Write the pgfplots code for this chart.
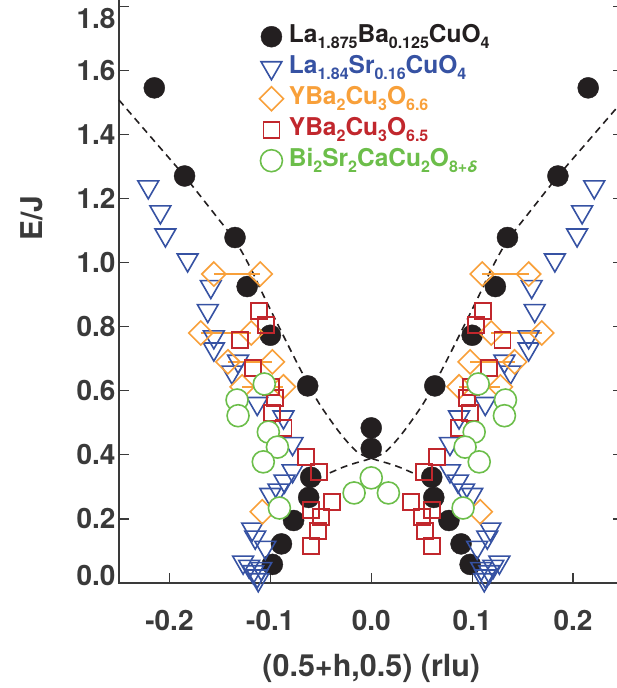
\documentclass[border=0pt]{standalone}
\usepackage{fontspec}
\setmainfont{TeX Gyre Heros}
\usepackage{pgfplots}
\pgfplotsset{compat=1.18}
\definecolor{cblk}{HTML}{231F20}
\definecolor{cblue}{HTML}{3652A3}
\definecolor{corange}{HTML}{F8A03A}
\definecolor{cred}{HTML}{C1272D}
\definecolor{cgreen}{HTML}{6CBE4A}
\definecolor{tgray}{HTML}{3A3A3A}
\newcommand{\sbs}[1]{\raisebox{-6.5pt}{\fontsize{16}{16}\selectfont #1}}
\begin{document}
\begin{tikzpicture}
\begin{axis}[
  scale only axis, width=504.5pt, height=599.3pt,
  xmin=-0.25, xmax=0.25, ymin=0, ymax=1.87,
  clip=false,
  axis line style={tgray, line width=1.2pt},
  tick align=inside, major tick length=10pt,
  tick style={tgray, line width=1.2pt},
  xtick={-0.2,-0.1,0,0.1,0.2},
  xticklabels={-0.2,-0.1,0.0,0.1,0.2},
  ytick={0,0.2,0.4,0.6,0.8,1.0,1.2,1.4,1.6,1.8},
  yticklabels={\raisebox{-2pt}[0pt][0pt]{0.0},0.2,0.4,0.6,0.8,1.0,1.2,1.4,1.6,\raisebox{-22pt}[0pt][0pt]{1.8}},
  ticklabel style={font=\fontsize{28}{32}\selectfont\bfseries, text=tgray},
  xticklabel style={yshift=-24pt},
  xlabel={(0.5+h,0.5) (rlu)},
  xlabel style={at={(rel axis cs:0.5,0)}, anchor=center, yshift=-85pt, font=\fontsize{30.5}{34}\selectfont\bfseries, text=tgray},
  ylabel={E/J},
  ylabel style={at={(rel axis cs:-0.172,0.609)}, anchor=center, rotate=0, font=\fontsize{30}{34}\selectfont\bfseries, text=tgray},
  legend style={at={(axis cs:-0.114,1.752)}, anchor=north west, draw=none, fill=none,
    font=\fontsize{24.5}{28}\selectfont\bfseries, row sep=5pt, column sep=4pt,
    nodes={inner sep=1.5pt, text height=17pt, text depth=6pt}},
  legend cell align=left,
  unbounded coords=jump,
]
% dashed guide curves
\addplot[forget plot, cblk, line width=1.6pt, dash pattern=on 7pt off 5pt, smooth] table {
-0.250 1.507
-0.218 1.390
-0.186 1.273
-0.160 1.170
-0.135 1.068
-0.120 0.985
-0.108 0.905
-0.090 0.790
-0.070 0.665
-0.052 0.562
-0.031 0.468
-0.014 0.409
0.001 0.388
0.016 0.374
0.029 0.360
0.045 0.338
};
\addplot[forget plot, cblk, line width=1.6pt, dash pattern=on 7pt off 5pt, smooth] table {
0.250 1.507
0.218 1.390
0.186 1.273
0.160 1.170
0.135 1.068
0.120 0.985
0.108 0.905
0.090 0.790
0.070 0.665
0.052 0.562
0.031 0.468
0.014 0.409
-0.001 0.388
-0.016 0.374
-0.029 0.360
-0.045 0.338
};
% La1.875Ba0.125CuO4
\addplot[only marks, mark=*, mark size=10.5pt, color=cblk] table {
-0.215 1.545
-0.185 1.270
-0.135 1.078
-0.123 0.925
-0.100 0.773
-0.063 0.615
-0.060 0.330
-0.062 0.267
-0.077 0.195
-0.089 0.122
-0.098 0.058
0.000 0.484
0.000 0.420
0.060 0.330
0.062 0.267
0.077 0.195
0.089 0.122
0.098 0.058
0.063 0.615
0.100 0.773
0.123 0.925
0.135 1.078
0.185 1.270
0.215 1.545
};
\addlegendentry{\textcolor{cblk}{La\sbs{1.875}Ba\sbs{0.125}CuO\sbs{4}}}
% La1.84Sr0.16CuO4
\addplot[only marks, mark=triangle, mark size=12pt, color=cblue, mark options={rotate=180, fill=white, line width=1.6pt}] table {
-0.221 1.236
-0.209 1.158
-0.204 1.086
-0.182 1.008
-0.159 0.925
-0.162 0.850
-0.156 0.768
-0.156 0.730
-0.132 0.692
-0.138 0.658
-0.113 0.560
-0.087 0.518
-0.078 0.435
-0.078 0.350
-0.086 0.318
-0.092 0.290
-0.100 0.276
-0.118 0.168
-0.115 0.143
-0.105 0.111
-0.127 0.065
-0.121 0.052
-0.117 0.035
-0.113 0.022
-0.109 0.045
-0.112 0.010
0.221 1.236
0.209 1.158
0.204 1.086
0.182 1.008
0.159 0.925
0.162 0.850
0.156 0.768
0.156 0.730
0.132 0.692
0.138 0.658
0.113 0.560
0.087 0.518
0.078 0.435
0.078 0.350
0.086 0.318
0.092 0.290
0.100 0.276
0.118 0.168
0.115 0.143
0.105 0.111
0.127 0.065
0.121 0.052
0.117 0.035
0.113 0.022
0.109 0.045
0.112 0.010
};
\addlegendentry{\textcolor{cblue}{La\sbs{1.84}Sr\sbs{0.16}CuO\sbs{4}}}
% YBa2Cu3O6.6 horizontal bars
\addplot[forget plot, corange, line width=1.6pt] table {
-0.156 0.964
-0.110 0.964
nan nan
-0.169 0.780
-0.119 0.780
nan nan
-0.142 0.690
-0.098 0.690
nan nan
-0.128 0.612
-0.087 0.612
nan nan
0.156 0.964
0.110 0.964
nan nan
0.169 0.780
0.119 0.780
nan nan
0.142 0.690
0.098 0.690
nan nan
0.128 0.612
0.087 0.612
};
\addplot[only marks, mark=square, mark size=8.5pt, color=corange, mark options={rotate=45, fill=white, line width=1.6pt}] table {
-0.156 0.964
-0.110 0.964
-0.169 0.780
-0.119 0.780
-0.142 0.690
-0.098 0.690
-0.128 0.612
-0.087 0.612
-0.108 0.222
0.156 0.964
0.110 0.964
0.169 0.780
0.119 0.780
0.142 0.690
0.098 0.690
0.128 0.612
0.087 0.612
0.108 0.222
};
\addlegendentry{\textcolor{corange}{YBa\sbs{2}Cu\sbs{3}O\sbs{6.6}}}
% YBa2Cu3O6.5
\addplot[only marks, mark=square, mark size=8pt, color=cred, mark options={fill=white, line width=1.8pt}] table {
-0.111 0.849
-0.104 0.805
-0.130 0.758
-0.117 0.671
-0.099 0.612
-0.095 0.577
-0.098 0.530
-0.087 0.484
-0.065 0.393
-0.052 0.346
-0.039 0.253
-0.060 0.228
-0.050 0.206
-0.053 0.162
-0.060 0.115
0.111 0.849
0.104 0.805
0.130 0.758
0.117 0.671
0.099 0.612
0.095 0.577
0.098 0.530
0.087 0.484
0.065 0.393
0.052 0.346
0.039 0.253
0.060 0.228
0.050 0.206
0.053 0.162
0.060 0.115
};
\addlegendentry{\textcolor{cred}{YBa\sbs{2}Cu\sbs{3}O\sbs{6.5}}}
% Bi2Sr2CaCu2O8+d
\addplot[only marks, mark=*, mark size=11pt, color=cgreen, mark options={fill=white, line width=1.6pt}] table {
-0.106 0.621
-0.133 0.571
-0.132 0.522
-0.102 0.471
-0.093 0.424
-0.107 0.378
-0.091 0.234
-0.017 0.281
0.000 0.328
0.017 0.281
0.106 0.621
0.133 0.571
0.132 0.522
0.102 0.471
0.093 0.424
0.107 0.378
0.091 0.234
};
\addlegendentry{\textcolor{cgreen}{Bi\sbs{2}Sr\sbs{2}CaCu\sbs{2}O\sbs{8+\textit{δ}}}}
\coordinate (SW) at (rel axis cs:0,0);
\end{axis}
\pgfresetboundingbox
\path[use as bounding box] ([xshift=-119pt,yshift=-105pt]SW) rectangle ([xshift=498pt,yshift=583pt]SW);
\end{tikzpicture}
\end{document}
